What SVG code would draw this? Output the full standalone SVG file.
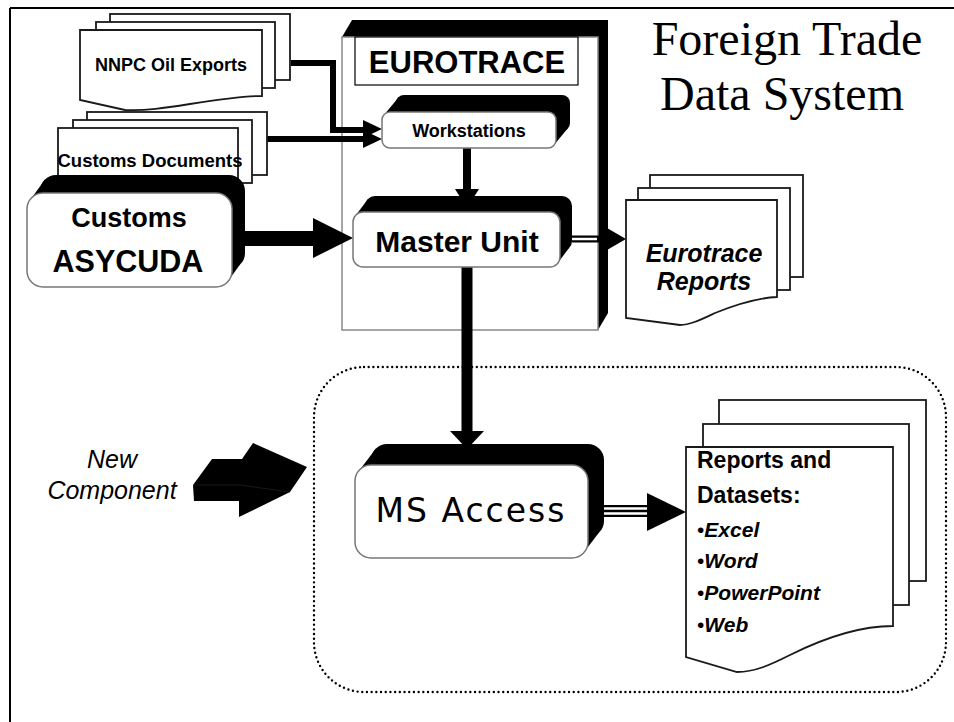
<svg xmlns="http://www.w3.org/2000/svg" width="954" height="722" viewBox="0 0 954 722">
<style>
.b{font-family:"Liberation Sans",Arial,sans-serif;font-weight:bold;fill:#000}
.bi{font-family:"Liberation Sans",Arial,sans-serif;font-weight:bold;font-style:italic;fill:#000}
.it{font-family:"Liberation Sans",Arial,sans-serif;font-style:italic;fill:#000}
.doc{fill:#fff;stroke:#1a1a1a;stroke-width:1.8}
.face{fill:#fff;stroke:#777;stroke-width:1.5}
.blk{fill:#000}
</style>
<rect width="954" height="722" fill="#fff"/>
<g id="frame" stroke="#000" stroke-width="2">
<line x1="10" y1="8" x2="954" y2="8"/>
<line x1="10" y1="8" x2="10" y2="722"/>
</g>
<g id="title" font-family="'Liberation Serif','Times New Roman',serif" font-size="48" text-anchor="middle" fill="#000">
<text x="787" y="55">Foreign Trade</text>
<text x="782" y="110">Data System</text>
</g>
<g id="new-component-area">
<rect x="314" y="367" width="632" height="325" rx="50" fill="none" stroke="#000" stroke-width="2.4" stroke-dasharray="0 4.7" stroke-linecap="round"/>
</g>
<g id="eurotrace">
<rect x="352" y="20" width="256" height="293" class="blk"/>
<polygon points="342,37 352,20 608,313 598,330" class="blk"/>
<rect x="342" y="37" width="256" height="293" fill="#fff" stroke="#888" stroke-width="1.5"/>
<rect x="355" y="37" width="223" height="48" fill="#fff" stroke="#000" stroke-width="1.2"/>
<text x="467" y="73" class="b" font-size="31" text-anchor="middle">EUROTRACE</text>
</g>
<g id="connectors">
<polyline points="291,63 333,63 333,130 366,130" fill="none" stroke="#000" stroke-width="6"/>
<polygon points="363,120 382,129 363,138" class="blk"/>
<line x1="266" y1="139" x2="366" y2="139" stroke="#000" stroke-width="6"/>
<polygon points="363,130 382,139 363,148" class="blk"/>
<line x1="467" y1="147" x2="467" y2="192" stroke="#000" stroke-width="8"/>
<polygon points="455,189 479,189 467,208" class="blk"/>
<rect x="243" y="231" width="72" height="15" class="blk"/>
<polygon points="313,218 353,238 313,258" class="blk"/>
<line x1="572" y1="239" x2="611" y2="239" stroke="#000" stroke-width="7"/>
<line x1="572" y1="239" x2="597" y2="239" stroke="#fff" stroke-width="2.5"/>
<line x1="608" y1="239" x2="611" y2="239" stroke="#fff" stroke-width="2.5"/>
<polygon points="607,228 626,239 607,250" class="blk"/>
<line x1="467" y1="266" x2="467" y2="434" stroke="#000" stroke-width="11"/>
<polygon points="450,431 484,431 467,449" class="blk"/>
<line x1="603" y1="511" x2="650" y2="511" stroke="#000" stroke-width="12"/>
<line x1="603" y1="511" x2="650" y2="511" stroke="#fff" stroke-width="7.5"/>
<line x1="603" y1="511" x2="650" y2="511" stroke="#000" stroke-width="2.5"/>
<polygon points="647,493 686,512 647,531" class="blk"/>
</g>
<g id="nnpc-oil-exports">
<rect x="110" y="14" width="180" height="66" class="doc"/>
<rect x="96" y="22" width="179" height="66" class="doc"/>
<path d="M80,30 H262 V96 C240,96 215,100 190,104 C165,108 145,111 125,110 L80,100 Z" class="doc"/>
<text x="171" y="71" class="b" font-size="18" text-anchor="middle">NNPC Oil Exports</text>
</g>
<g id="customs-documents">
<rect x="87" y="112" width="180" height="63" class="doc"/>
<rect x="73" y="120" width="179" height="63" class="doc"/>
<rect x="58" y="128" width="180" height="70" class="doc"/>
<text x="150" y="167" class="b" font-size="18.5" text-anchor="middle">Customs Documents</text>
</g>
<g id="customs-asycuda">
<rect x="40" y="175" width="205" height="94" rx="16" class="blk"/>
<polygon points="31.8,197.8 44.8,179.8 240.2,264.2 227.2,282.2" class="blk"/>
<rect x="27" y="193" width="205" height="94" rx="16" class="face"/>
<text x="129" y="227" class="b" font-size="27" text-anchor="middle">Customs</text>
<text x="128" y="272" class="b" font-size="30.5" text-anchor="middle">ASYCUDA</text>
</g>
<g id="workstations">
<rect x="396" y="95" width="174" height="36" rx="8" class="blk"/>
<polygon points="384.4,114.4 398.4,97.4 567.6,128.6 553.6,145.6" class="blk"/>
<rect x="382" y="112" width="174" height="36" rx="8" class="face"/>
<text x="469" y="137" class="b" font-size="18" text-anchor="middle">Workstations</text>
</g>
<g id="master-unit">
<rect x="365" y="196" width="207" height="55" rx="10" class="blk"/>
<polygon points="356,215 368,199 569,248 557,264" class="blk"/>
<rect x="353" y="212" width="207" height="55" rx="10" class="face"/>
<text x="457" y="252" class="b" font-size="30" text-anchor="middle">Master Unit</text>
</g>
<g id="eurotrace-reports">
<rect x="650" y="175" width="153" height="102" class="doc"/>
<rect x="638" y="188" width="152" height="102" class="doc"/>
<path d="M626,200 H777 V297 C755,298 735,305 715,313 C700,320 690,325 680,325 L626,318 Z" class="doc"/>
<text x="704" y="262" class="bi" font-size="25" text-anchor="middle">Eurotrace</text>
<text x="704" y="290" class="bi" font-size="25" text-anchor="middle">Reports</text>
</g>
<g id="new-component">
<polygon points="193,485 212,459 242,459 253,443 307,467 290,492 239,517 239,501 194,501" class="blk"/>
<polyline points="194,485 240,485 290,492" fill="none" stroke="#2a2a2a" stroke-width="0.6"/>
<text x="112" y="468" class="it" font-size="25" text-anchor="middle">New</text>
<text x="112" y="499" class="it" font-size="25" text-anchor="middle">Component</text>
</g>
<g id="ms-access">
<rect x="371" y="444" width="233" height="93" rx="16" class="blk"/>
<polygon points="359.8,469.8 375.8,448.8 599.2,532.2 583.2,553.2" class="blk"/>
<rect x="355" y="465" width="233" height="93" rx="16" class="face"/>
<text x="471" y="522" font-family="'DejaVu Sans',Verdana,sans-serif" font-size="33" letter-spacing="2" text-anchor="middle" fill="#000">MS Access</text>
</g>
<g id="reports-datasets">
<rect x="719" y="400" width="207" height="181" class="doc"/>
<rect x="703" y="424" width="206" height="181" class="doc"/>
<path d="M686,447 H893 V626 C855,626 820,640 790,655 C770,665 755,672 737,672 L686,657 Z" class="doc"/>
<text x="697" y="468" class="b" font-size="23">Reports and</text>
<text x="697" y="503" class="b" font-size="23">Datasets:</text>
<text x="697" y="537" class="b" font-size="21"><tspan font-weight="normal">•</tspan><tspan class="bi">Excel</tspan></text>
<text x="697" y="568" class="b" font-size="21"><tspan font-weight="normal">•</tspan><tspan class="bi">Word</tspan></text>
<text x="697" y="600" class="b" font-size="21"><tspan font-weight="normal">•</tspan><tspan class="bi">PowerPoint</tspan></text>
<text x="697" y="632" class="b" font-size="21"><tspan font-weight="normal">•</tspan><tspan class="bi">Web</tspan></text>
</g>
</svg>
